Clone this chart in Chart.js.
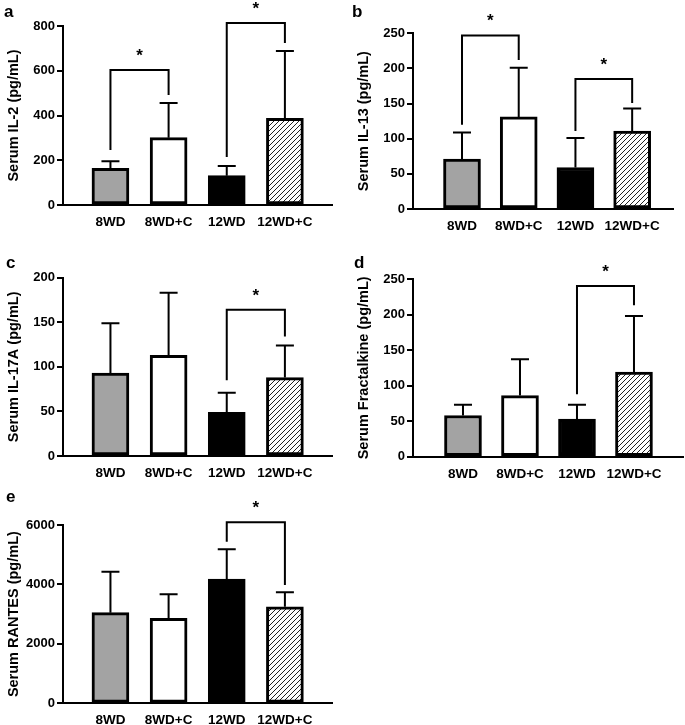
<!DOCTYPE html>
<html>
<head>
<meta charset="utf-8">
<script src="https://cdn.jsdelivr.net/npm/chart.js@4.4.0/dist/chart.umd.min.js"></script>
<style>
body { margin: 0; background: #fff; }
#wrap { position: relative; width: 685px; height: 725px; overflow: hidden; background: #fff; }
canvas { position: absolute; }
.tag { position: absolute; font: bold 17px "Liberation Sans", Arial, sans-serif; line-height: 17px; color: #000; }
</style>
</head>
<body>
<div id="wrap">
  <canvas id="cA" width="340" height="240" style="left:0;top:0"></canvas>
  <canvas id="cB" width="345" height="240" style="left:340px;top:0"></canvas>
  <canvas id="cC" width="340" height="240" style="left:0;top:240px"></canvas>
  <canvas id="cD" width="345" height="240" style="left:340px;top:240px"></canvas>
  <canvas id="cE" width="340" height="245" style="left:0;top:480px"></canvas>
  <div class="tag" style="left:4px;top:3px">a</div>
  <div class="tag" style="left:352px;top:3px">b</div>
  <div class="tag" style="left:6px;top:254px">c</div>
  <div class="tag" style="left:354px;top:254px">d</div>
  <div class="tag" style="left:6px;top:488px">e</div>
</div>
<script>
var groups = ['8WD', '8WD+C', '12WD', '12WD+C'];

// mean and SD (upper bar only)
var il2Mean = [164, 301, 131, 387];
var il2Sd = [31, 155, 43, 301];
var il13Mean = [71, 131, 59, 111];
var il13Sd = [38, 70, 42, 32];
var il17Mean = [93, 113, 49, 88];
var il17Sd = [56, 70, 22, 36];
var fkMean = [58, 86, 53, 119];
var fkSd = [15, 51, 20, 79];
var rantesMean = [3050, 2860, 4180, 3250];
var rantesSd = [1380, 810, 1000, 485];

// significance brackets: [from, to, top, left end, right end] in axis units
var il2Sig = [[0, 1, 603, 246, 492], [2, 3, 813, 215, 724]];
var il13Sig = [[0, 1, 247, 120, 212], [2, 3, 185, 111, 151]];
var il17Sig = [[2, 3, 164, 85, 134]];
var fkSig = [[2, 3, 240, 88, 213]];
var rantesSig = [[2, 3, 6090, 5440, 3980]];

var FONT = '"Liberation Sans", Arial, sans-serif';
Chart.defaults.font.family = FONT;
Chart.defaults.font.weight = 'bold';
Chart.defaults.color = '#000';

function hatch() {
    var c = document.createElement('canvas');
    c.width = 5; c.height = 5;
    var g = c.getContext('2d');
    g.fillStyle = '#fff';
    g.fillRect(0, 0, 5, 5);
    g.strokeStyle = '#222';
    g.lineWidth = 1;
    g.beginPath();
    g.moveTo(0, 5); g.lineTo(5, 0);
    g.moveTo(-1, 1); g.lineTo(1, -1);
    g.moveTo(4, 6); g.lineTo(6, 4);
    g.stroke();
    return g.createPattern(c, 'repeat');
}
var fills = ['#a3a3a3', '#ffffff', '#000000', hatch()];

var extras = {
    id: 'extras',
    afterDatasetsDraw: function(chart) {
        var ctx = chart.ctx, y = chart.scales.y;
        var meta = chart.getDatasetMeta(0);
        var sd = chart.config.options.sd, sig = chart.config.options.sig;
        ctx.save();
        ctx.strokeStyle = '#000';
        ctx.lineWidth = 2;
        meta.data.forEach(function(bar, i) {
            var top = y.getPixelForValue(chart.data.datasets[0].data[i].y + sd[i]);
            ctx.beginPath();
            ctx.moveTo(bar.x, bar.y);
            ctx.lineTo(bar.x, top);
            ctx.moveTo(bar.x - 9, top);
            ctx.lineTo(bar.x + 9, top);
            ctx.stroke();
        });
        sig.forEach(function(s) {
            var x1 = meta.data[s[0]].x, x2 = meta.data[s[1]].x;
            var t = y.getPixelForValue(s[2]);
            ctx.beginPath();
            ctx.moveTo(x1, y.getPixelForValue(s[3]));
            ctx.lineTo(x1, t);
            ctx.lineTo(x2, t);
            ctx.lineTo(x2, y.getPixelForValue(s[4]));
            ctx.stroke();
            ctx.fillStyle = '#000';
            ctx.font = 'bold 17px ' + FONT;
            ctx.textAlign = 'center';
            ctx.textBaseline = 'alphabetic';
            ctx.fillText('*', (x1 + x2) / 2, t - 9);
        });
        ctx.restore();
    }
};

function makeChart(id, title, mean, sd, sig, yMax, yStep, box) {
    var cv = document.getElementById(id);
    var pts = mean.map(function(v, i) { return {x: i, y: v}; });
    return new Chart(cv, {
        type: 'bar',
        data: {
            datasets: [{
                data: pts,
                backgroundColor: fills,
                borderColor: '#000',
                borderWidth: 3,
                borderSkipped: false,
                barThickness: 37
            }]
        },
        options: {
            responsive: false,
            animation: false,
            sd: sd,
            sig: sig,
            layout: {padding: {left: 0, top: box.top, right: cv.width - box.right, bottom: 0}},
            plugins: {legend: {display: false}, tooltip: {enabled: false}},
            scales: {
                x: {
                    type: 'linear',
                    offset: false,
                    min: box.xMin,
                    max: box.xMax,
                    afterBuildTicks: function(s) {
                        s.ticks = groups.map(function(g, i) { return {value: i}; });
                    },
                    afterFit: function(s) { s.height = cv.height - box.bottom; },
                    grid: {display: false, drawTicks: false},
                    border: {display: true, color: '#000', width: 2},
                    ticks: {
                        callback: function(v) { return groups[v]; },
                        autoSkip: false,
                        maxRotation: 0,
                        padding: 9,
                        font: {size: 13.5, weight: 'bold'}
                    }
                },
                y: {
                    min: 0,
                    max: yMax,
                    afterFit: function(s) { s.width = box.left; },
                    grid: {drawOnChartArea: false, drawTicks: true, tickLength: 6, color: '#000', lineWidth: 2},
                    border: {display: true, color: '#000', width: 2},
                    ticks: {
                        stepSize: yStep,
                        padding: 2,
                        font: {size: 13, weight: 'bold'},
                        callback: function(v) { return String(v); }
                    },
                    title: {
                        display: true,
                        text: title,
                        font: {size: 14.5, weight: 'bold'},
                        padding: {top: box.left - 49.5 - 8.7, bottom: 0}
                    }
                }
            }
        },
        plugins: [extras]
    });
}

makeChart('cA', 'Serum IL-2 (pg/mL)', il2Mean, il2Sd, il2Sig, 800, 200,
    {left: 63, right: 332, top: 26, bottom: 205, xMin: -0.816, xMax: 3.81});
makeChart('cB', 'Serum IL-13 (pg/mL)', il13Mean, il13Sd, il13Sig, 250, 50,
    {left: 73, right: 333, top: 33.3, bottom: 209, xMin: -0.864, xMax: 3.72});
makeChart('cC', 'Serum IL-17A (pg/mL)', il17Mean, il17Sd, il17Sig, 200, 50,
    {left: 63, right: 332, top: 37.7, bottom: 216, xMin: -0.816, xMax: 3.81});
makeChart('cD', 'Serum Fractalkine (pg/mL)', fkMean, fkSd, fkSig, 250, 50,
    {left: 73, right: 343, top: 39, bottom: 216.7, xMin: -0.877, xMax: 3.86});
makeChart('cE', 'Serum RANTES (pg/mL)', rantesMean, rantesSd, rantesSig, 6000, 2000,
    {left: 63, right: 332, top: 45, bottom: 223.3, xMin: -0.816, xMax: 3.81});
</script>
</body>
</html>
